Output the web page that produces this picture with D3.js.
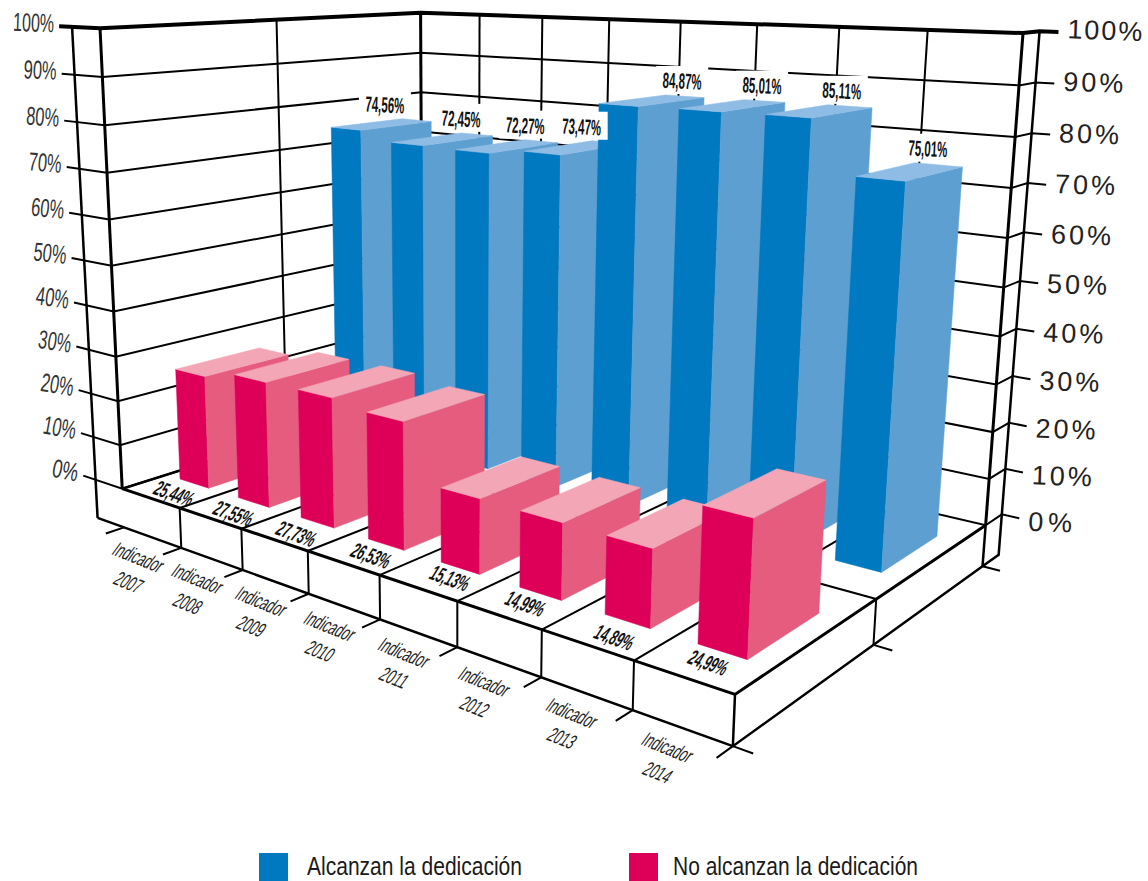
<!DOCTYPE html>
<html>
<head>
<meta charset="utf-8">
<script src="https://cdnjs.cloudflare.com/ajax/libs/d3/7.8.5/d3.min.js"></script>
<style>
  body { margin: 0; background: #fff; }
  text { font-family: "Liberation Sans", sans-serif; }
</style>
</head>
<body>
<svg id="chart" width="1148" height="881"></svg>
<script>
const categories = ["2007", "2008", "2009", "2010", "2011", "2012", "2013", "2014"];
const alcanzan = [74.56, 72.45, 72.27, 73.47, 84.87, 85.01, 85.11, 75.01];
const noAlcanzan = [25.44, 27.55, 27.73, 26.53, 15.13, 14.99, 14.89, 24.99];
const tickValues = [0, 10, 20, 30, 40, 50, 60, 70, 80, 90, 100];
const seriesNames = ["No alcanzan la dedicación", "Alcanzan la dedicación"];

const colors = {
  blue: { front: "#0079c1", side: "#5e9fd1", top: "#8fbce4" },
  pink: { front: "#de0058", side: "#e55c7e", top: "#f2a6b6" }
};

// world is a unit box, u along the categories, w into the page, h up
const xCat = d3.scaleBand().domain(categories).range([-0.001, 0.999]).paddingInner(0.5).paddingOuter(0.25);
const edge = d3.scaleLinear().domain([0, 8]).range([0, 1]);
const zRow = d3.scaleBand().domain(seriesNames).range([0, 1]).paddingInner(0.5).paddingOuter(0.25);
const yVal = d3.scaleLinear().domain([0, 100]).range([0, 1]);

// picture points of the box, the camera is fitted on them
const calib = [
  [0, 0, 0, 122.7, 490], [1, 0, 0, 735, 693], [1, 1, 0, 985, 526], [0, 1, 0, 422.5, 393],
  [0, 0, 1, 100, 28], [1, 1, 1, 1023, 33], [0, 1, 1, 420.7, 12.7],
  [0.5, 0, 0, 379, 576], [0.5, 1, 1, 680, 22.7], [0, 0, 0.5, 111.5, 265], [1, 1, 0.5, 1005, 287]
];

function fitCamera(pts) {
  const n = 11;
  const A = d3.range(n).map(() => d3.range(n + 1).map(() => 0));
  function add(r, b) {
    for (let i = 0; i < n; i++) {
      for (let j = 0; j < n; j++) A[i][j] += r[i] * r[j];
      A[i][n] += r[i] * b;
    }
  }
  pts.forEach(([X, Y, Z, x, y]) => {
    add([X, Y, Z, 1, 0, 0, 0, 0, -x * X, -x * Y, -x * Z], x);
    add([0, 0, 0, 0, X, Y, Z, 1, -y * X, -y * Y, -y * Z], y);
  });
  for (let i = 0; i < n; i++) {
    let best = i;
    for (let k = i + 1; k < n; k++) if (Math.abs(A[k][i]) > Math.abs(A[best][i])) best = k;
    [A[i], A[best]] = [A[best], A[i]];
    for (let k = 0; k < n; k++) {
      if (k === i) continue;
      const f = A[k][i] / A[i][i];
      for (let j = i; j <= n; j++) A[k][j] -= f * A[i][j];
    }
  }
  return A.map((row, i) => row[n] / row[i]);
}
const cam = fitCamera(calib);

function project(u, w, h) {
  const d = cam[8] * u + cam[9] * w + cam[10] * h + 1;
  return [
    (cam[0] * u + cam[1] * w + cam[2] * h + cam[3]) / d,
    (cam[4] * u + cam[5] * w + cam[6] * h + cam[7]) / d
  ];
}

const svg = d3.select("#chart");
const lineGen = d3.line();

function seg(pts, width) {
  svg.append("path")
    .attr("d", lineGen(pts.map(p => project(p[0], p[1], p[2]))))
    .attr("fill", "none")
    .attr("stroke", "#000")
    .attr("stroke-width", width)
    .attr("stroke-linejoin", "miter");
}

const slabH = -0.09;
const outerL = -0.061, tickL = -0.09;
const outerR = 1.085, tickR = 0.024;
const edges = d3.range(0, 9);

// back walls
edges.slice(1, 8).forEach(i => seg([[edge(i), 1, 0], [edge(i), 1, 1]], 2));
seg([[0, 0.5, 0], [0, 0.5, 1]], 2);
seg([[0, 1, 0], [0, 1, 1]], 3);
tickValues.forEach(t => {
  const h = yVal(t);
  const lw = t === 100 ? 4 : 2;
  seg([[tickL, 0, h], [0, 0, h], [0, 1, h], [1, 1, h], [1, outerR, h], [1 + tickR, outerR, h]], lw);
});

// floor
edges.slice(1, 8).forEach(i => seg([[edge(i), 0, 0], [edge(i), 1, 0]], 2));
seg([[0, 0.5, 0], [1, 0.5, 0]], 2);
seg([[0, 0, 0], [0, 1, 0]], 2.5);
seg([[0, 0, 0], [1, 0, 0], [1, 1, 0]], 3);

// base slab and its ticks
seg([[0, 0, 0], [0, 0, 1]], 3);
seg([[outerL, 0, slabH], [outerL, 0, 1]], 2.5);
seg([[outerL, 0, slabH], [1, 0, slabH], [1, 1, slabH], [1, outerR, slabH], [1, outerR, 1]], 2.5);
seg([[1, 1, 0], [1, 1, 1]], 3);
seg([[1, 1, 0], [1, 1, slabH]], 2.5);
seg([[1, 0.5, 0], [1, 0.5, slabH]], 2);
seg([[1, 0, 0], [1, 0, slabH]], 2.5);
edges.forEach(i => {
  if (i > 0 && i < 8) seg([[edge(i), 0, 0], [edge(i), 0, slabH]], 2);
  seg([[edge(i), 0, slabH], [edge(i), -0.05, slabH]], 2);
});
[0, 0.5, 1].forEach(w => seg([[1, w, slabH], [1 + tickR, w, slabH]], 2));

function face(pts, fill) {
  svg.append("path")
    .attr("d", lineGen(pts.map(p => project(p[0], p[1], p[2]))) + "Z")
    .attr("fill", fill)
    .attr("stroke", fill)
    .attr("stroke-width", 0.5);
}

function drawBars(values, serie, col) {
  const w0 = zRow(serie), w1 = w0 + zRow.bandwidth();
  categories.forEach((c, i) => {
    const u0 = xCat(c), u1 = u0 + xCat.bandwidth(), h = yVal(values[i]);
    face([[u0, w0, 0], [u1, w0, 0], [u1, w0, h], [u0, w0, h]], col.front);
    face([[u1, w0, 0], [u1, w1, 0], [u1, w1, h], [u1, w0, h]], col.side);
    face([[u0, w0, h], [u1, w0, h], [u1, w1, h], [u0, w1, h]], col.top);
  });
}
drawBars(alcanzan, seriesNames[1], colors.blue);
drawBars(noAlcanzan, seriesNames[0], colors.pink);

// value labels, the hand placed nudges come from the picture
const fmt = v => v.toFixed(2).replace(".", ",") + "%";
const labelX = d3.scaleLinear().domain([0, 7]).range([-17, 10]);
const blueNudge = [0, 13, 10, -5, 18, 16, 8, 3];
const pinkNudge = [[-2, 0], [-2, 1], [-3, 1], [3, 1], [8, 0], [3, 0], [5, 6], [4, 1]];
alcanzan.forEach((v, i) => {
  const c = categories[i];
  const p = project(xCat(c), zRow(seriesNames[1]) + zRow.bandwidth(), yVal(v));
  const x = p[0] + labelX(i) + blueNudge[i], y = p[1] - 14;
  svg.append("rect").attr("x", x - 26).attr("y", y - 15).attr("width", 52).attr("height", 28).attr("fill", "#fff");
  svg.append("text").attr("transform", `translate(${x},${y}) rotate(3)`)
    .attr("text-anchor", "middle").attr("dy", "0.35em")
    .attr("font-size", 22).attr("font-weight", "bold").attr("fill", "#111")
    .attr("textLength", 39).attr("lengthAdjust", "spacingAndGlyphs")
    .text(fmt(v));
});
noAlcanzan.forEach((v, i) => {
  const c = categories[i];
  const p = project(xCat(c) + xCat.bandwidth() / 2, zRow(seriesNames[0]), 0);
  const dx = p[0] - 18 + pinkNudge[i][0], dy = p[1] + 10 + pinkNudge[i][1];
  svg.append("text").attr("transform", `translate(${dx},${dy}) rotate(20) skewX(-12)`)
    .attr("text-anchor", "middle").attr("dy", "0.35em")
    .attr("font-size", 22).attr("font-weight", "bold").attr("fill", "#111")
    .attr("textLength", 39).attr("lengthAdjust", "spacingAndGlyphs")
    .text(fmt(v));
});

// category labels
categories.forEach((c, i) => {
  const p = project(xCat(c) + xCat.bandwidth() / 2, 0, slabH);
  svg.append("text").attr("transform", `translate(${p[0] - 13},${p[1] + 20}) rotate(22) skewX(-14)`)
    .attr("text-anchor", "middle").attr("dy", "0.35em")
    .attr("font-size", 21).attr("fill", "#222")
    .attr("textLength", 51).attr("lengthAdjust", "spacingAndGlyphs")
    .text("Indicador");
  svg.append("text").attr("transform", `translate(${p[0] - 23},${p[1] + 45}) rotate(22) skewX(-14)`)
    .attr("text-anchor", "middle").attr("dy", "0.35em")
    .attr("font-size", 21).attr("fill", "#222")
    .attr("textLength", 27).attr("lengthAdjust", "spacingAndGlyphs")
    .text(c);
});

// value axis labels, narrow on the left and wide on the right
const rightY = d3.scaleLinear().domain([0, 100]).range([3, -3]);
tickValues.forEach(t => {
  const h = yVal(t);
  const l = project(tickL, 0, h);
  const wide = t === 100 ? 41 : t === 0 ? 26 : 33;
  svg.append("text").attr("transform", `translate(${l[0] - 5},${l[1] - 3}) rotate(${11 - t * 0.09})`)
    .attr("text-anchor", "end").attr("dy", "0.35em")
    .attr("font-size", 26).attr("fill", "#333")
    .attr("textLength", wide).attr("lengthAdjust", "spacingAndGlyphs")
    .text(t + "%");
  const r = project(1 + tickR, outerR, h);
  const wideR = t === 100 ? 75 : t === 0 ? 44 : 60;
  svg.append("text").attr("transform", `translate(${r[0] + 9},${r[1] + rightY(t)}) rotate(2)`)
    .attr("dy", "0.35em")
    .attr("font-size", 27).attr("font-family", "Roboto").attr("font-weight", 300).attr("fill", "#222")
    .attr("textLength", wideR).attr("lengthAdjust", "spacing")
    .text(t + "%");
});

// legend
[[seriesNames[1], colors.blue.front, 259, 307, 215], [seriesNames[0], colors.pink.front, 629, 673, 245]].forEach(d => {
  svg.append("rect").attr("x", d[2]).attr("y", 853).attr("width", 29).attr("height", 28).attr("fill", d[1]);
  svg.append("text").attr("x", d[3]).attr("y", 875)
    .attr("font-size", 26).attr("fill", "#1a1a1a")
    .attr("textLength", d[4]).attr("lengthAdjust", "spacingAndGlyphs")
    .text(d[0]);
});
</script>
</body>
</html>
